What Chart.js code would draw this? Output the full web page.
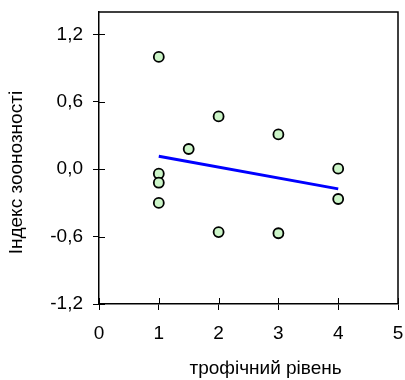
<!DOCTYPE html>
<html>
<head>
<meta charset="utf-8">
<script src="https://cdn.jsdelivr.net/npm/chart.js@4"></script>
<style>
  html, body { margin: 0; padding: 0; background: #fff; }
  #wrap { width: 405px; height: 380px; }
</style>
</head>
<body>
<div id="wrap"><canvas id="myChart" width="405" height="380"></canvas></div>
<script>
// trophic level (x) and zoonosis index (y)
const levelX = [1, 1, 1, 1, 1.5, 2, 2, 3, 3, 4, 4];
const indexY = [1.0, -0.04, -0.12, -0.3, 0.18, 0.47, -0.56, 0.31, -0.57, 0.005, -0.265];

// regression line ends
const trendX = [1, 4];
const trendY = [0.116, -0.175];

const yTicks = [-1.2, -0.6, 0, 0.6, 1.2];
const xTicks = [0, 1, 2, 3, 4, 5];

const xTitle = "трофічний рівень";
const yTitle = "Індекс зоонозності";

const pointsData = levelX.map((x, i) => ({ x: x, y: indexY[i] }));
const trendData = trendX.map((x, i) => ({ x: x, y: trendY[i] }));

const fontFam = "'Liberation Sans', Arial, sans-serif";

// frame on top/right, ticks crossing the axes, axis titles (off-centre like the original)
const framePlugin = {
  id: "frame",
  afterDraw(chart) {
    const c = chart.ctx;
    const a = chart.chartArea;
    const xs = chart.scales.x, ys = chart.scales.y;
    c.save();
    c.strokeStyle = "#000";
    c.lineWidth = 1.5;
    c.beginPath();
    c.moveTo(a.left, a.top);
    c.lineTo(a.right, a.top);
    c.lineTo(a.right, a.bottom);
    c.stroke();
    c.lineWidth = 1;
    c.beginPath();
    yTicks.forEach((v) => {
      const py = Math.round(ys.getPixelForValue(v)) + 0.5;
      c.moveTo(a.left, py);
      c.lineTo(a.left + 6, py);
    });
    xTicks.forEach((v) => {
      const px = Math.round(xs.getPixelForValue(v)) + 0.5;
      c.moveTo(px, a.bottom);
      c.lineTo(px, a.bottom - 6);
    });
    c.stroke();

    c.fillStyle = "#000";
    c.font = "19px " + fontFam;
    c.textAlign = "center";
    c.textBaseline = "middle";
    c.fillText(xTitle, a.left + (a.right - a.left) * 0.557, 369);
    c.translate(17, a.top + (a.bottom - a.top) * 0.55);
    c.rotate(-Math.PI / 2);
    c.fillText(yTitle, 0, 0);
    c.restore();
  },
};

var ctx = document.getElementById("myChart").getContext("2d");

var myChart = new Chart(ctx, {
  type: "scatter",
  data: {
    datasets: [
      {
        type: "line",
        data: trendData,
        borderColor: "#0000ff",
        borderWidth: 3,
        pointRadius: 0,
        fill: false,
        order: 2,
      },
      {
        data: pointsData,
        backgroundColor: "#ccf5c8",
        borderColor: "#000",
        borderWidth: 1.8,
        pointRadius: 5,
        order: 1,
      },
    ],
  },
  plugins: [framePlugin],
  options: {
    responsive: false,
    animation: false,
    layout: { padding: { top: 12, right: 7, left: 0, bottom: 0 } },
    plugins: {
      legend: { display: false },
      tooltip: { enabled: false },
    },
    scales: {
      x: {
        type: "linear",
        min: 0,
        max: 5,
        afterBuildTicks: (s) => { s.ticks = xTicks.map((v) => ({ value: v })); },
        afterFit: (s) => { s.height = 76; s.paddingLeft = 0; s.paddingRight = 0; },
        grid: { drawOnChartArea: false, drawTicks: true, tickLength: 6, color: "#000" },
        border: { color: "#000", width: 1.5 },
        ticks: {
          color: "#000",
          padding: 12,
          maxRotation: 0,
          font: { family: fontFam, size: 19 },
        },
      },
      y: {
        type: "linear",
        min: -1.2,
        max: 1.4,
        afterBuildTicks: (s) => { s.ticks = yTicks.map((v) => ({ value: v })); },
        afterFit: (s) => { s.width = 99; s.paddingTop = 0; s.paddingBottom = 0; },
        grid: { drawOnChartArea: false, drawTicks: true, tickLength: 6, color: "#000" },
        border: { color: "#000", width: 1.5 },
        ticks: {
          color: "#000",
          padding: 10,
          font: { family: fontFam, size: 19 },
          callback: (v) => v.toFixed(1).replace(".", ","),
        },
      },
    },
  },
});
</script>
</body>
</html>
